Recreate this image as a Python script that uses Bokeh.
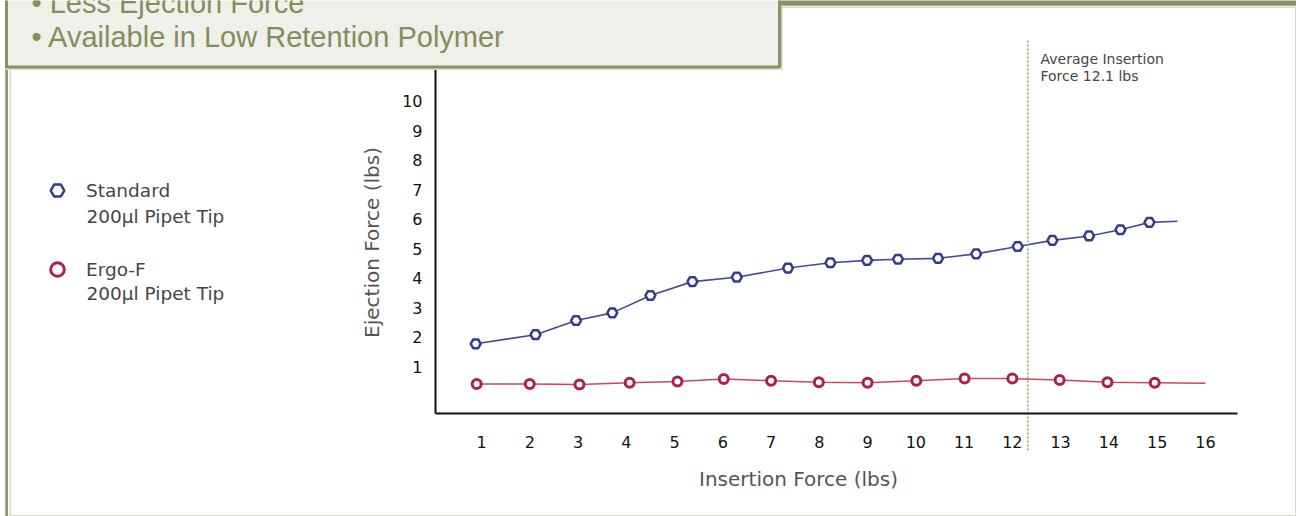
from bokeh.plotting import figure
from bokeh.models import Range1d, FixedTicker, Label, Legend, LegendItem, BoxAnnotation
from bokeh.embed import file_html
from bokeh.resources import INLINE

# ---------------- data ----------------
x_ticks = list(range(1, 17))
y_ticks = list(range(1, 11))

std_x = [0.88, 2.12, 2.96, 3.71, 4.50, 5.37, 6.29, 7.35, 8.23, 8.99,
         9.63, 10.46, 11.25, 12.11, 12.83, 13.59, 14.24, 14.84]
std_y = [1.77, 2.08, 2.56, 2.82, 3.41, 3.88, 4.03, 4.34, 4.52, 4.60,
         4.64, 4.67, 4.82, 5.07, 5.28, 5.43, 5.64, 5.89]
std_tail_x = [15.42]
std_tail_y = [5.93]

ergo_x = [0.90, 2.00, 3.03, 4.07, 5.06, 6.02, 7.00, 7.99, 9.00, 10.01,
          11.01, 12.00, 12.98, 13.97, 14.95]
ergo_y = [0.41, 0.41, 0.39, 0.45, 0.49, 0.58, 0.52, 0.47, 0.45, 0.52,
          0.59, 0.59, 0.54, 0.47, 0.45]
ergo_tail_x = [16.00]
ergo_tail_y = [0.43]

avg_insertion_x = [12.32]

series_names = ["Standard", "Ergo-F"]
series_sub = ["200\u00b5l Pipet Tip", "200\u00b5l Pipet Tip"]
bullets = ["\u2022 Less Ejection Force", "\u2022 Available in Low Retention Polymer"]
avg_note = ["Average Insertion", "Force 12.1 lbs"]
x_title = "Insertion Force (lbs)"
y_title = "Ejection Force (lbs)"

# ---------------- layout (page pixel geometry) ----------------
W, H = 1296, 516
AX_L, AX_R, AX_T, AX_B = 435, 1237, 60, 413
PX_X1, PX_PER_X = 481.0, 48.26
PX_Y0, PX_PER_Y = 395.5, 29.48


def fx(px):
    return 1 + (px - PX_X1) / PX_PER_X


def fy(py):
    return (PX_Y0 - py) / PX_PER_Y


OLIVE = "#8b9166"
OLIVE_TXT = "#868c5f"
TXT = "#464646"
BLUE = "#363b8a"
RED = "#ad204c"

p = figure(width=W, height=H, output_backend="svg", toolbar_location=None,
           x_range=Range1d(fx(0), fx(W)), y_range=Range1d(fy(H), fy(0)),
           min_border=0)
p.title.visible = False
p.outline_line_color = None
p.background_fill_color = "white"
p.border_fill_color = "white"
p.xgrid.visible = False
p.ygrid.visible = False

for ax, ticks in ((p.xaxis, x_ticks), (p.yaxis, y_ticks)):
    ax.ticker = FixedTicker(ticks=ticks)
    ax.major_tick_line_color = None
    ax.major_tick_out = 0
    ax.major_tick_in = 0
    ax.minor_tick_line_color = None
    ax.minor_tick_out = 0
    ax.axis_line_color = "#111111"
    ax.axis_line_width = 2
    ax.major_label_text_font = "DejaVu Sans"
    ax.major_label_text_font_size = "16px"
    ax.major_label_text_color = "#111111"
p.xaxis.fixed_location = fy(AX_B)
p.xaxis.bounds = (fx(AX_L), fx(AX_R))
p.xaxis.major_label_standoff = 22
p.yaxis.fixed_location = fx(AX_L)
p.yaxis.bounds = (fy(AX_B), fy(AX_T))
p.yaxis.major_label_standoff = 13

# series
p.line(std_x + std_tail_x, std_y + std_tail_y, line_color="#474b93", line_width=1.6)
std_r = p.scatter(std_x, std_y, marker="hex", size=10, fill_color="white",
                  line_color=BLUE, line_width=2.5)
p.line(ergo_x + ergo_tail_x, ergo_y + ergo_tail_y, line_color="#c9485c", line_width=1.5)
ergo_r = p.scatter(ergo_x, ergo_y, marker="circle", size=9, fill_color="white",
                   line_color=RED, line_width=3)

# average insertion dotted line
p.segment(x0=avg_insertion_x, y0=[fy(40)], x1=avg_insertion_x, y1=[fy(452)],
          line_color="#7fb25a", line_width=1.5, line_dash="2 2")
for i, t in enumerate(avg_note):
    p.add_layout(Label(x=fx(1040), y=fy(58 + 17 * i), text=t, text_font="DejaVu Sans",
                       text_font_size="14px", text_color=TXT,
                       text_align="left", text_baseline="middle"))

# axis titles
p.add_layout(Label(x=fx(798), y=fy(478), text=x_title, text_font="DejaVu Sans",
                   text_font_size="20px", text_color="#555555",
                   text_align="center", text_baseline="middle"))
p.add_layout(Label(x=fx(371), y=fy(242), text=y_title, text_font="DejaVu Sans",
                   text_font_size="20px", text_color="#555555", angle=1.5707963,
                   text_align="center", text_baseline="middle"))

# legend
legend = Legend(items=[LegendItem(label=series_names[0], renderers=[std_r]),
                       LegendItem(label=series_names[1], renderers=[ergo_r])],
                location=(40, H - 286), glyph_width=34, glyph_height=34,
                spacing=45, padding=0, margin=0, border_line_color=None,
                background_fill_alpha=0, label_standoff=12,
                label_text_font="DejaVu Sans", label_text_font_size="18.5px",
                label_text_color=TXT)
p.add_layout(legend, "center")
for i, t in enumerate(series_sub):
    p.add_layout(Label(x=fx(86), y=fy(216 + 77 * i), text=t, text_font="DejaVu Sans",
                       text_font_size="18.5px", text_color=TXT,
                       text_align="left", text_baseline="middle"))


# page chrome
def band(l, r, t, b, color):
    p.add_layout(BoxAnnotation(left=fx(l), right=fx(r), top=fy(t), bottom=fy(b),
                               fill_color=color, fill_alpha=1, line_alpha=0))


band(4.8, 7.4, 60, 520, OLIVE)            # left olive rule
band(9.0, 10.3, 66, 520, "#d3d5c6")       # left light rule
band(9.0, 1300, 514.4, 520, "#d5d6cc")    # bottom light rule
band(1294.5, 1300, 6, 520, "#d5d6cc")     # right light rule
band(778, 1300, -5, 5.2, OLIVE)           # top olive bar
band(780, 1300, 6.0, 7.4, "#d8dacb")      # light line under bar
band(779, 782, 5, 69.5, "#c9cbbd")        # box shadow right
band(5, 782, 67.5, 69.5, "#dcddd2")       # box shadow bottom
p.add_layout(BoxAnnotation(left=fx(6), right=fx(779), top=fy(-40), bottom=fy(66.5),
                           fill_color="#f0f0ea", fill_alpha=1,
                           line_color=OLIVE, line_alpha=1, line_width=3))
for i, t in enumerate(bullets):
    p.add_layout(Label(x=fx(31), y=fy(2.7 + 34 * i), text=t, text_font="Liberation Sans",
                       text_font_size="29px", text_color=OLIVE_TXT,
                       text_align="left", text_baseline="middle"))

open("out.html", "w").write(file_html(p, INLINE))
